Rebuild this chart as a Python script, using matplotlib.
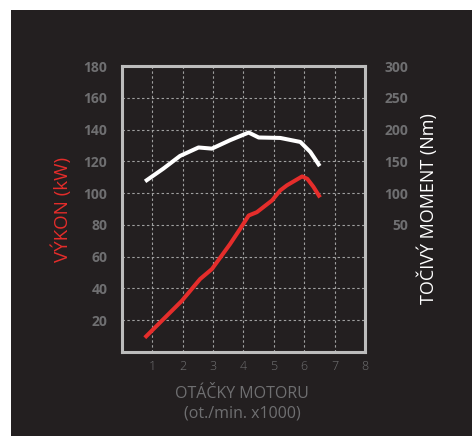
import matplotlib

matplotlib.use("Agg")
import matplotlib.pyplot as plt
from matplotlib.patches import Rectangle

plt.rcParams["font.family"] = ["Open Sans", "DejaVu Sans"]

# engine speed (x1000 rpm) and curves
rpm_power = [0.75, 1.36, 1.97, 2.57, 2.96, 3.56, 3.89, 4.17, 4.44, 4.94, 5.21, 5.43, 5.93, 6.1, 6.3, 6.52]
power_kw = [9.0, 20.6, 32.2, 45.9, 52.2, 68.0, 77.5, 85.9, 88.0, 95.4, 101.7, 104.9, 110.5, 109.0, 104.0, 97.3]

rpm_torque = [0.76, 1.36, 1.91, 2.52, 2.96, 3.56, 4.17, 4.5, 5.21, 5.87, 6.2, 6.51]
torque_nm = [118.5, 138.5, 158.5, 171.8, 170.0, 183.3, 195.3, 187.5, 186.8, 180.5, 164.8, 142.5]

x_ticks = [1, 2, 3, 4, 5, 6, 7, 8]
kw_ticks = [20, 40, 60, 80, 100, 120, 140, 160, 180]
nm_ticks = [50, 100, 150, 200, 250, 300]

bg = "#231f20"
red = "#e52d2b"
gray = "#6f6f71"
frame = "#bcbcbc"

W, H = 472, 436
fig = plt.figure(figsize=(W / 100, H / 100), dpi=100, facecolor="white")
fig.patches.append(Rectangle((11 / W, 0), 1, 426 / H, transform=fig.transFigure,
                             facecolor=bg, edgecolor="none", zorder=-5))

ax = fig.add_axes([122 / W, 84 / H, 243 / W, 286 / H])
ax.set_facecolor(bg)
ax.set_xlim(0, 8)
ax.set_ylim(0, 180)
ax.set_xticks(x_ticks)
ax.set_yticks(kw_ticks)
ax.tick_params(length=0)
ax.tick_params(axis="x", colors="#717173", labelsize=9, pad=6)
ax.tick_params(axis="y", colors=gray, labelsize=10, pad=10.5)
for t in ax.get_yticklabels():
    t.set_fontweight("bold")
for t in ax.get_xticklabels():
    t.set_fontweight("light")
ax.grid(True, color="#a0a0a0", linestyle=(0, (2.2, 2.2)), linewidth=0.8)
for s in ax.spines.values():
    s.set_color(frame)
    s.set_linewidth(2.2)

ax.plot(rpm_power, power_kw, color=red, linewidth=2.9, solid_capstyle="butt", zorder=3)

ax2 = ax.twinx()
ax2.set_ylim(-150, 300)
ax2.set_yticks(nm_ticks)
ax2.tick_params(length=0, colors=gray, labelsize=10, pad=31)
for t in ax2.get_yticklabels():
    t.set_fontweight("bold")
    t.set_horizontalalignment("right")
for s in ax2.spines.values():
    s.set_visible(False)
ax2.plot(rpm_torque, torque_nm, color="white", linewidth=2.9, solid_capstyle="butt", zorder=3)

# axis titles
fig.text(62 / W, 1 - 209 / H, "VÝKON (kW)", color=red, fontsize=13.5,
         rotation=90, ha="center", va="center")
fig.text(428 / W, 1 - 209 / H, "TOČIVÝ MOMENT (Nm)", color="white", fontsize=13,
         rotation=90, ha="center", va="center")
fig.text(242 / W, 1 - 394 / H, "OTÁČKY MOTORU", color=gray, fontsize=11.5,
         ha="center", va="center")
fig.text(242 / W, 1 - 413 / H, "(ot./min. x1000)", color=gray, fontsize=11.5,
         ha="center", va="center")

fig.savefig("out.png", dpi=100, facecolor="white")
